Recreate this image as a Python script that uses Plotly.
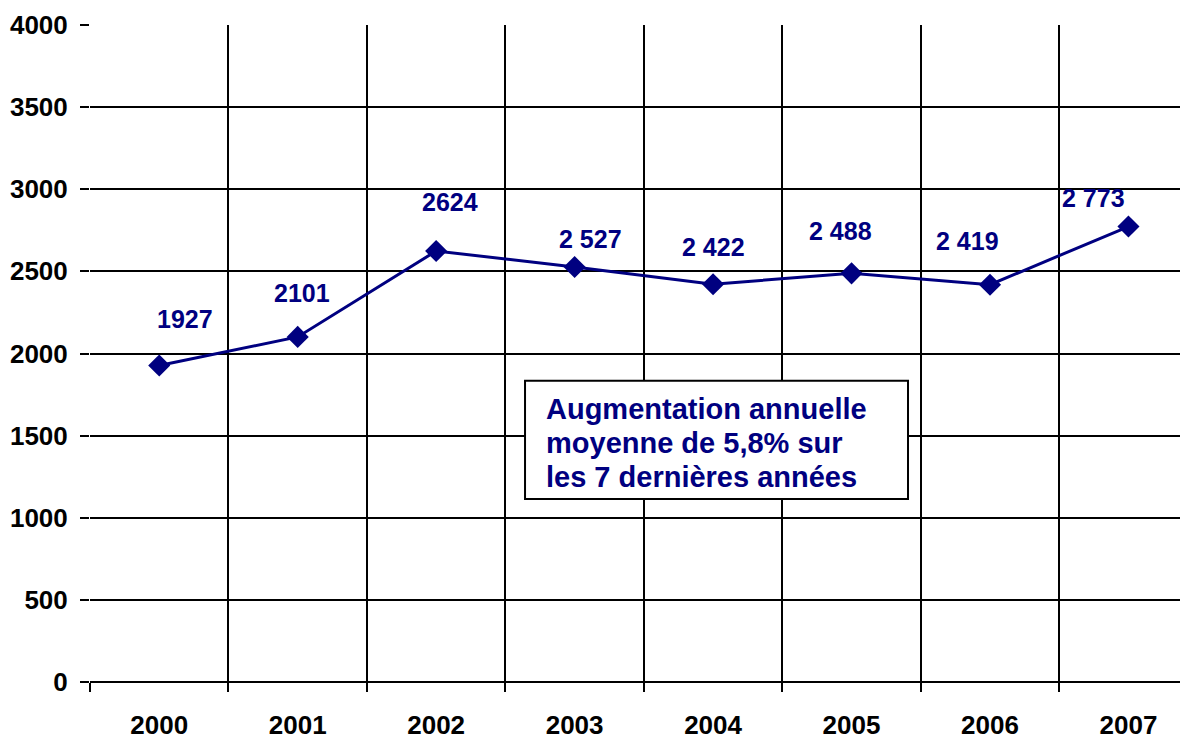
import plotly.graph_objects as go

years = ["2000", "2001", "2002", "2003", "2004", "2005", "2006", "2007"]
values = [1927, 2101, 2624, 2527, 2422, 2488, 2419, 2773]
value_labels = ["1927", "2101", "2624", "2 527", "2 422", "2 488", "2 419", "2 773"]
y_ticks = [0, 500, 1000, 1500, 2000, 2500, 3000, 3500, 4000]
note_lines = ["Augmentation annuelle", "moyenne de 5,8% sur", "les 7 dernières années"]

# label offsets (pixels) relative to each point
label_dx = [26, 4, 14, 16, 0, -11, -23, -35]
label_dy = [46, 44, 49, 28, 37, 42, 44, 29]

NAVY = "#000080"
FONT = "Liberation Sans, Arial, sans-serif"

xs = list(range(len(years)))

fig = go.Figure()
fig.add_trace(go.Scatter(
    x=xs, y=values, mode="lines+markers",
    line=dict(color=NAVY, width=3),
    marker=dict(symbol="diamond", size=17, color=NAVY),
    hoverinfo="skip", showlegend=False,
))

for x, v, lab, dx, dy in zip(xs, values, value_labels, label_dx, label_dy):
    fig.add_annotation(x=x, y=v, text=f"<b>{lab}</b>", showarrow=False,
                       xshift=dx, yshift=dy,
                       font=dict(family=FONT, size=25, color=NAVY))

# note box
fig.add_shape(type="rect", xref="paper", yref="paper",
              x0=0.3962, x1=0.745, y0=0.2784, y1=0.4584,
              line=dict(color="black", width=2), fillcolor="white", layer="above")
for i, line in enumerate(note_lines):
    fig.add_annotation(
        xref="paper", yref="paper", x=0.4144, y=0.3631, yshift=(1 - i) * 34,
        text=f"<b>{line}</b>", showarrow=False, align="left",
        font=dict(family=FONT, size=29, color=NAVY),
        xanchor="left", yanchor="middle", borderpad=0,
    )

fig.update_layout(
    width=1180, height=732,
    margin=dict(l=82, r=0, t=17, b=54),
    paper_bgcolor="white", plot_bgcolor="white",
    font=dict(family=FONT, size=26, color="black"),
    xaxis=dict(
        range=[-0.5, 7.43], tickmode="array", tickvals=xs,
        ticktext=[f"<b>{y}</b>" for y in years],
        showgrid=False, ticks="", showline=False, zeroline=False,
        ticklabelstandoff=25,
        minor=dict(tickmode="array", tickvals=[i - 0.5 for i in range(9)],
                   showgrid=True, gridcolor="black", gridwidth=2,
                   ticks="outside", ticklen=9, tickcolor="black", tickwidth=2),
        tickfont=dict(family=FONT, size=26, color="black"),
    ),
    yaxis=dict(
        range=[0, 4000], tickmode="array", tickvals=y_ticks,
        ticktext=[f"<b>{t}</b>" for t in y_ticks],
        showgrid=True, gridcolor="black", gridwidth=2,
        zeroline=True, zerolinecolor="black", zerolinewidth=2,
        ticks="outside", ticklen=9, tickcolor="black", tickwidth=2,
        ticklabelstandoff=7,
        tickfont=dict(family=FONT, size=26, color="black"),
    ),
)

fig.write_html("out.html")
